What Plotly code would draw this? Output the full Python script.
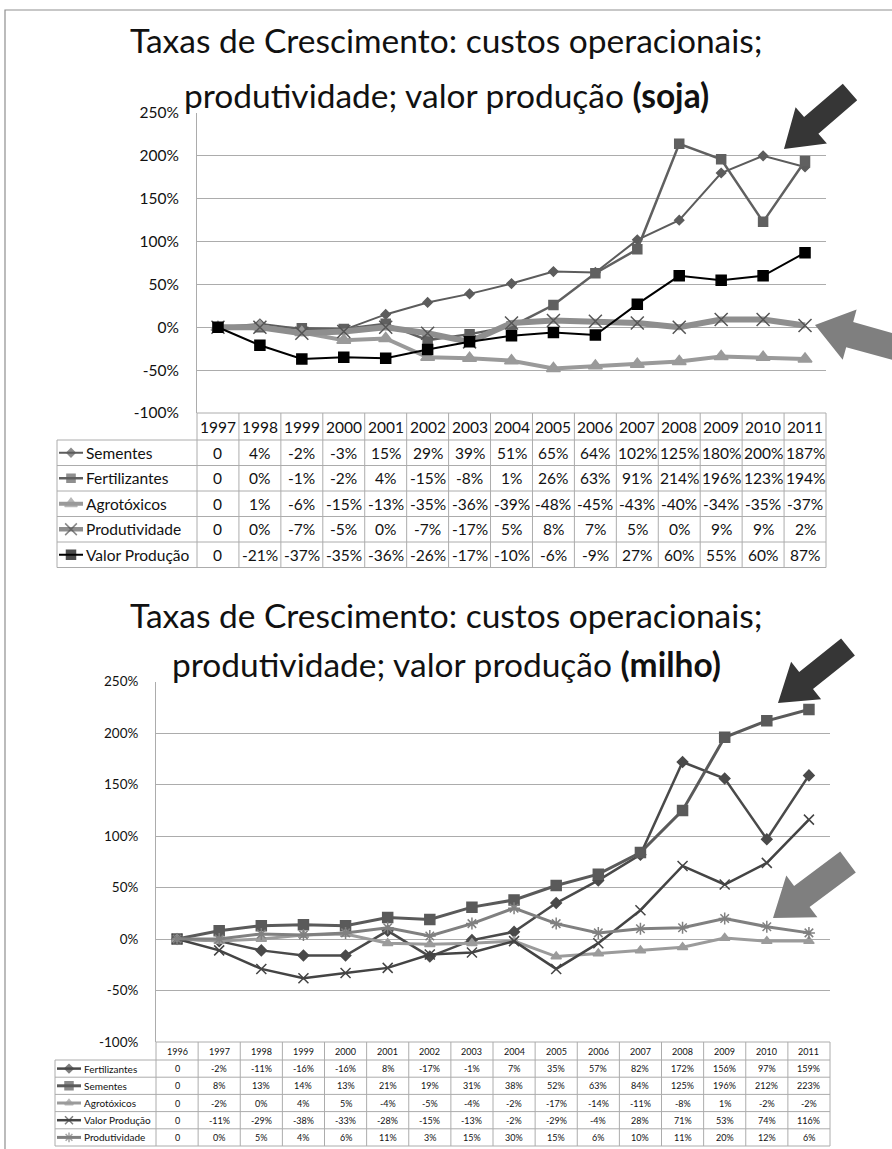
import math
import plotly.graph_objects as go

W, H = 892, 1149

# ---------------- DATA ----------------
tick_vals = [-100, -50, 0, 50, 100, 150, 200, 250]
tick_text = ["-100%", "-50%", "0%", "50%", "100%", "150%", "200%", "250%"]

soja_title1 = "Taxas de Crescimento: custos operacionais;"
soja_title2 = "produtividade; valor produção <b>(soja)</b>"
soja_years = [1997, 1998, 1999, 2000, 2001, 2002, 2003, 2004, 2005, 2006, 2007, 2008, 2009, 2010, 2011]
soja_names = ["Sementes", "Fertilizantes", "Agrotóxicos", "Produtividade", "Valor Produção"]
soja_sementes = [0, 4, -2, -3, 15, 29, 39, 51, 65, 64, 102, 125, 180, 200, 187]
soja_fertilizantes = [0, 0, -1, -2, 4, -15, -8, 1, 26, 63, 91, 214, 196, 123, 194]
soja_agrotoxicos = [0, 1, -6, -15, -13, -35, -36, -39, -48, -45, -43, -40, -34, -35, -37]
soja_produtividade = [0, 0, -7, -5, 0, -7, -17, 5, 8, 7, 5, 0, 9, 9, 2]
soja_valor = [0, -21, -37, -35, -36, -26, -17, -10, -6, -9, 27, 60, 55, 60, 87]

milho_title1 = "Taxas de Crescimento: custos operacionais;"
milho_title2 = "produtividade; valor produção <b>(milho)</b>"
milho_years = [1996, 1997, 1998, 1999, 2000, 2001, 2002, 2003, 2004, 2005, 2006, 2007, 2008, 2009, 2010, 2011]
milho_names = ["Fertilizantes", "Sementes", "Agrotóxicos", "Valor Produção", "Produtividade"]
milho_fertilizantes = [0, -2, -11, -16, -16, 8, -17, -1, 7, 35, 57, 82, 172, 156, 97, 159]
milho_sementes = [0, 8, 13, 14, 13, 21, 19, 31, 38, 52, 63, 84, 125, 196, 212, 223]
milho_agrotoxicos = [0, -2, 0, 4, 5, -4, -5, -4, -2, -17, -14, -11, -8, 1, -2, -2]
milho_valor = [0, -11, -29, -38, -33, -28, -15, -13, -2, -29, -4, 28, 71, 53, 74, 116]
milho_produtividade = [0, 0, 5, 4, 6, 11, 3, 15, 30, 15, 6, 10, 11, 20, 12, 6]

# ---------------- STYLES ----------------
FONT = "Lato, 'Open Sans', sans-serif"
GRID = "#acacac"
TXT = "#111111"

soja_styles = [
    dict(color="#5c5c5c", width=2, symbol="diamond", size=7, mcolor="#5c5c5c"),
    dict(color="#606060", width=2.5, symbol="square", size=9, mcolor="#606060"),
    dict(color="#9a9a9a", width=4, symbol="triangle-up", size=12, mcolor="#9a9a9a"),
    dict(color="#8e8e8e", width=6, symbol="x-thin-open", size=13, mcolor="#555555"),
    dict(color="#000000", width=2, symbol="square", size=10, mcolor="#000000"),
]
milho_styles = [
    dict(color="#4a4a4a", width=2.5, symbol="diamond", size=8, mcolor="#4a4a4a"),
    dict(color="#5a5a5a", width=3, symbol="square", size=10, mcolor="#5a5a5a"),
    dict(color="#9b9b9b", width=3, symbol="triangle-up", size=9, mcolor="#9b9b9b"),
    dict(color="#444444", width=2.5, symbol="x-thin-open", size=10, mcolor="#444444"),
    dict(color="#808080", width=3, symbol="asterisk-open", size=10, mcolor="#808080"),
]

TOP = dict(x0=197, x1=826, ytop=113, ybot=413, leg_x0=57, header_h=27, row_h=25.5,
           line_x0=59, line_x1=83, text_x=84, val_font=15.5, leg_font=15.5, tick_font=15.5,
           standoff=14, t1=40, t2=95, title_font=33.5, legscale=0.9)
BOT = dict(x0=156, x1=830, ytop=681.7, ybot=1042, leg_x0=55, header_h=18, row_h=17.2,
           line_x0=57, line_x1=81, text_x=82, val_font=9, leg_font=10, tick_font=13.5,
           standoff=14, t1=615, t2=664, title_font=33.5, legscale=0.8)

fig = go.Figure()
shapes = []
annotations = []


def line(x0, y0, x1, y1, color=GRID, width=1):
    shapes.append(dict(type="line", xref="x3", yref="y3", x0=x0, y0=y0, x1=x1, y1=y1,
                       line=dict(color=color, width=width), layer="above"))


def text(x, y, s, size, xanchor="center", yanchor="middle"):
    annotations.append(dict(xref="x3", yref="y3", x=x, y=y, text=s, showarrow=False,
                            xanchor=xanchor, yanchor=yanchor,
                            font=dict(family=FONT, size=size, color=TXT)))


def arrow(tip, tail, head_len, head_half, shaft_half, color):
    dx, dy = tail[0] - tip[0], tail[1] - tip[1]
    L = math.hypot(dx, dy)
    ux, uy = dx / L, dy / L
    nx, ny = -uy, ux
    bx, by = tip[0] + head_len * ux, tip[1] + head_len * uy
    pts = [tip,
           (bx + head_half * nx, by + head_half * ny),
           (bx + shaft_half * nx, by + shaft_half * ny),
           (tail[0] + shaft_half * nx, tail[1] + shaft_half * ny),
           (tail[0] - shaft_half * nx, tail[1] - shaft_half * ny),
           (bx - shaft_half * nx, by - shaft_half * ny),
           (bx - head_half * nx, by - head_half * ny)]
    path = "M " + " L ".join(f"{p[0]:.1f},{p[1]:.1f}" for p in pts) + " Z"
    shapes.append(dict(type="path", xref="x3", yref="y3", path=path,
                       fillcolor=color, line=dict(width=0), layer="above"))


def build(idx, geo, title1, title2, years, names, data, styles):
    xa = "x" if idx == 1 else f"x{idx}"
    ya = "y" if idx == 1 else f"y{idx}"
    for name, vals, st in zip(names, data, styles):
        fig.add_trace(go.Scatter(
            x=years, y=vals, name=name, mode="lines+markers", xaxis=xa, yaxis=ya,
            line=dict(color=st["color"], width=st["width"]),
            marker=dict(symbol=st["symbol"], size=st["size"], color=st["mcolor"],
                        line=dict(color=st["mcolor"], width=1.5)),
            hoverinfo="skip", showlegend=False, cliponaxis=False))
    xkey = "xaxis" if idx == 1 else f"xaxis{idx}"
    ykey = "yaxis" if idx == 1 else f"yaxis{idx}"
    fig.update_layout(**{
        xkey: dict(domain=[geo["x0"] / W, geo["x1"] / W], range=[years[0] - 0.5, years[-1] + 0.5],
                   showgrid=False, zeroline=False, showline=False, showticklabels=False,
                   ticks="", anchor=ya, fixedrange=True, automargin=False),
        ykey: dict(domain=[1 - geo["ybot"] / H, 1 - geo["ytop"] / H], range=[-100, 250],
                   tickvals=tick_vals, ticktext=tick_text, showgrid=True, gridcolor=GRID,
                   gridwidth=1, zeroline=False, showline=True, linecolor=GRID, linewidth=1,
                   ticks="", ticklabelstandoff=geo["standoff"],
                   tickfont=dict(family=FONT, size=geo["tick_font"], color=TXT),
                   anchor=xa, fixedrange=True, automargin=False),
    })
    text(W / 2, geo["t1"], title1, geo["title_font"])
    text(W / 2, geo["t2"], title2, geo["title_font"])
    n = len(years)
    cw = (geo["x1"] - geo["x0"]) / n
    yb = geo["ybot"]
    rows_top = yb + geo["header_h"]
    bottom = rows_top + geo["row_h"] * len(names)
    line(geo["x0"], yb, geo["x1"], yb)
    for k in range(len(names) + 1):
        y = rows_top + k * geo["row_h"]
        line(geo["leg_x0"], y, geo["x1"], y)
    for i in range(n + 1):
        x = geo["x0"] + i * cw
        line(x, yb, x, bottom)
    line(geo["leg_x0"], rows_top, geo["leg_x0"], bottom)
    for i, yr in enumerate(years):
        text(geo["x0"] + (i + 0.5) * cw, yb + geo["header_h"] / 2, str(yr), geo["val_font"])
    for r, (name, vals, st) in enumerate(zip(names, data, styles)):
        cy = rows_top + (r + 0.5) * geo["row_h"]
        for i, v in enumerate(vals):
            s = "0" if i == 0 else f"{v}%"
            text(geo["x0"] + (i + 0.5) * cw, cy, s, geo["val_font"])
        text(geo["text_x"], cy, name, geo["leg_font"], xanchor="left")
        xm = (geo["line_x0"] + geo["line_x1"]) / 2
        sz = st["size"] * geo["legscale"]
        fig.add_trace(go.Scatter(
            x=[geo["line_x0"], xm, geo["line_x1"]], y=[cy, cy, cy], mode="lines+markers",
            xaxis="x3", yaxis="y3",
            line=dict(color=st["color"], width=min(st["width"], 4.5)),
            marker=dict(symbol=st["symbol"], size=[0, sz, 0], color=st["mcolor"],
                        line=dict(color=st["mcolor"], width=1.5)),
            hoverinfo="skip", showlegend=False, cliponaxis=False))


build(1, TOP, soja_title1, soja_title2, soja_years, soja_names,
      [soja_sementes, soja_fertilizantes, soja_agrotoxicos, soja_produtividade, soja_valor],
      soja_styles)
build(2, BOT, milho_title1, milho_title2, milho_years, milho_names,
      [milho_fertilizantes, milho_sementes, milho_agrotoxicos, milho_valor, milho_produtividade],
      milho_styles)

# page frame
shapes.append(dict(type="path", xref="x3", yref="y3", path=f"M 5,{H} L 5,10 L {W},10",
                   line=dict(color="#8f8f8f", width=1.2), layer="above"))

# arrows
DARK = "#363636"
GRAY = "#7f7f7f"
arrow((784, 149), (850, 92), 36, 24, 11, DARK)
arrow((815, 325), (905, 350), 36, 26, 13, GRAY)
arrow((778, 703), (848, 647), 36, 24, 11, DARK)
arrow((773, 918), (848, 862), 36, 26, 13, GRAY)

fig.update_layout(
    template="none",
    width=W, height=H, autosize=False,
    margin=dict(l=0, r=0, t=0, b=0, pad=0, autoexpand=False),
    paper_bgcolor="white", plot_bgcolor="rgba(0,0,0,0)",
    xaxis3=dict(domain=[0, 1], range=[0, W], visible=False, anchor="y3", fixedrange=True,
                automargin=False),
    yaxis3=dict(domain=[0, 1], range=[H, 0], visible=False, anchor="x3", fixedrange=True,
                automargin=False),
    shapes=shapes, annotations=annotations,
    font=dict(family=FONT, color=TXT),
)

fig.write_html("out.html", config={"displayModeBar": False},
               post_script="document.body.style.margin='0';document.body.style.overflow='hidden';")
